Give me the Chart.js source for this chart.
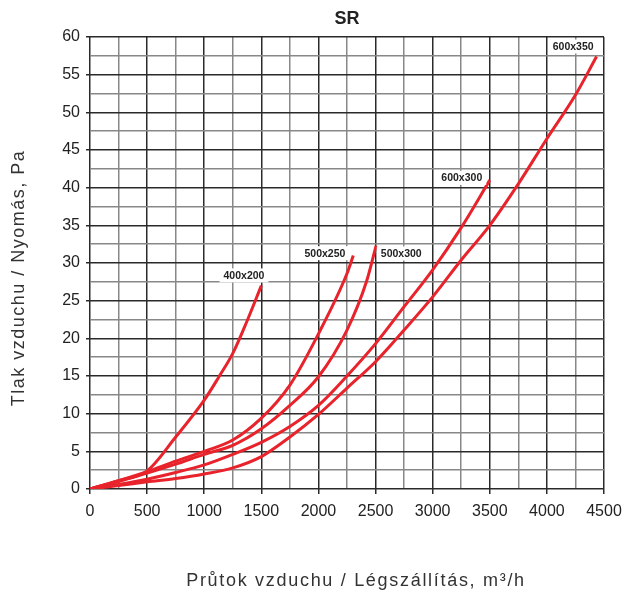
<!DOCTYPE html>
<html>
<head>
<meta charset="utf-8">
<script src="https://cdn.jsdelivr.net/npm/chart.js@4.4.1/dist/chart.umd.min.js"></script>
<style>
  html, body { margin: 0; padding: 0; background: #fff; }
  #wrap { width: 626px; height: 591px; }
</style>
</head>
<body>
<div id="wrap"><canvas id="chart"></canvas></div>
<script>
// series names (duct sizes)
const seriesNames = ['400x200', '500x250', '500x300', '600x300', '600x350'];

// airflow m3/h and pressure drop Pa
const flow400x200 = [0, 250, 500, 750, 1000, 1125, 1250, 1375, 1500];
const dp400x200   = [0, 1.1, 2.4, 6.9, 11.8, 14.8, 18.0, 22.3, 27.0];

const flow500x250 = [0, 250, 500, 750, 1000, 1250, 1500, 1750, 2000, 2250, 2305];
const dp500x250   = [0, 1.1, 2.3, 3.7, 5.0, 6.5, 9.4, 13.8, 20.6, 28.6, 31.0];

const flow500x300 = [0, 250, 500, 750, 1000, 1250, 1500, 1750, 2000, 2250, 2420, 2505];
const dp500x300   = [0, 1.0, 2.1, 3.3, 4.6, 5.8, 8.0, 11.1, 14.9, 21.1, 27.5, 32.3];

const flow600x300 = [0, 250, 500, 750, 1000, 1250, 1500, 1750, 2000, 2250, 2500, 2750, 3000, 3250, 3500];
const dp600x300   = [0, 0.6, 1.3, 2.2, 3.2, 4.6, 6.2, 8.3, 11.1, 15.0, 19.3, 24.2, 29.1, 34.7, 41.0];

const flow600x350 = [0, 250, 500, 750, 1000, 1250, 1500, 1750, 2000, 2250, 2500, 2750, 3000, 3250, 3500, 3750, 4000, 4250, 4435];
const dp600x350   = [0, 0.45, 0.95, 1.4, 2.0, 2.8, 4.3, 6.9, 9.9, 13.4, 16.9, 21.1, 25.5, 30.4, 35.0, 40.5, 46.5, 52.3, 57.4];

// where each curve's name sits (data units)
const labelFlow = [1348, 2057, 2725, 3255, 4230];
const labelDp   = [28.35, 31.3, 31.27, 41.3, 58.74];

const xTitle = 'Průtok vzduchu / Légszállítás, m³/h';
const yTitle = 'Tlak vzduchu / Nyomás, Pa';

const flows = [flow400x200, flow500x250, flow500x300, flow600x300, flow600x350];
const dps = [dp400x200, dp500x250, dp500x300, dp600x300, dp600x350];

const RED = '#e8232b';
const FONT = "'Liberation Sans', Arial, Helvetica, sans-serif";

const datasets = seriesNames.map((name, i) => ({
    label: name,
    data: flows[i].map((x, j) => ({ x: x, y: dps[i][j] })),
    borderColor: RED,
    borderWidth: 3,
    pointRadius: 0,
    fill: false,
    cubicInterpolationMode: 'monotone'
}));

const curveLabels = {
    id: 'curveLabels',
    afterDatasetsDraw(chart) {
        const ctx = chart.ctx;
        const xs = chart.scales.x;
        const ys = chart.scales.y;
        ctx.save();
        ctx.font = 'bold 10.5px ' + FONT;
        ctx.textAlign = 'center';
        ctx.textBaseline = 'middle';
        for (let i = 0; i < seriesNames.length; i++) {
            const px = xs.getPixelForValue(labelFlow[i]);
            const py = ys.getPixelForValue(labelDp[i]);
            const w = ctx.measureText(seriesNames[i]).width;
            ctx.fillStyle = '#fff';
            ctx.fillRect(px - w / 2 - 4, py - 7, w + 8, 14);
            ctx.fillStyle = '#222';
            ctx.fillText(seriesNames[i], px, py + 0.5);
        }
        ctx.restore();
    }
};

// axis titles drawn by hand, the original has wide letter spacing
const axisTitles = {
    id: 'axisTitles',
    afterDraw(chart) {
        const ctx = chart.ctx;
        const area = chart.chartArea;
        ctx.save();
        ctx.font = '18px ' + FONT;
        ctx.fillStyle = '#333';
        ctx.textAlign = 'center';
        ctx.textBaseline = 'alphabetic';
        ctx.letterSpacing = '1.7px';
        ctx.fillText(xTitle, (area.left + area.right) / 2 + 9, 586);
        ctx.translate(24, (area.top + area.bottom) / 2 + 15);
        ctx.rotate(-Math.PI / 2);
        ctx.letterSpacing = '1.5px';
        ctx.fillText(yTitle, 0, 0);
        ctx.restore();
    }
};

new Chart(document.getElementById('chart'), {
    type: 'line',
    data: { datasets: datasets },
    options: {
        responsive: true,
        maintainAspectRatio: false,
        animation: false,
        layout: { padding: { right: 22 } },
        plugins: {
            legend: { display: false },
            tooltip: { enabled: false },
            title: {
                display: true,
                text: 'SR',
                fullSize: false,
                color: '#222',
                font: { family: FONT, size: 18, weight: 'bold' },
                padding: { top: 8.5, bottom: 6.9 }
            }
        },
        scales: {
            x: {
                type: 'linear',
                min: 0,
                max: 4500,
                afterFit: (scale) => {
                    scale.height = 102;
                    scale.paddingLeft = 0;
                    scale.paddingRight = 0;
                },
                border: { display: false },
                grid: {
                    color: (c) => (c.tick && c.tick.value % 500 === 0) ? '#2a2a2a' : '#888',
                    tickColor: (c) => (c.tick && c.tick.value % 500 === 0) ? '#2a2a2a' : 'rgba(0,0,0,0)',
                    lineWidth: 1.5,
                    tickLength: 5
                },
                ticks: {
                    stepSize: 250,
                    autoSkip: false,
                    maxRotation: 0,
                    padding: 8,
                    color: '#222',
                    font: { family: FONT, size: 16 },
                    callback: (v) => v % 500 === 0 ? String(v) : ''
                }
            },
            y: {
                type: 'linear',
                min: 0,
                max: 60,
                afterFit: (scale) => { scale.width = 90; },
                border: { display: false },
                grid: {
                    color: (c) => (c.tick && c.tick.value % 5 === 0) ? '#2a2a2a' : '#888',
                    tickColor: (c) => (c.tick && c.tick.value % 5 === 0) ? '#2a2a2a' : 'rgba(0,0,0,0)',
                    lineWidth: 1.5,
                    tickLength: 4
                },
                ticks: {
                    stepSize: 2.5,
                    autoSkip: false,
                    padding: 6,
                    color: '#222',
                    font: { family: FONT, size: 16 },
                    callback: (v) => v % 5 === 0 ? String(v) : ''
                }
            }
        }
    },
    plugins: [curveLabels, axisTitles]
});
</script>
</body>
</html>
